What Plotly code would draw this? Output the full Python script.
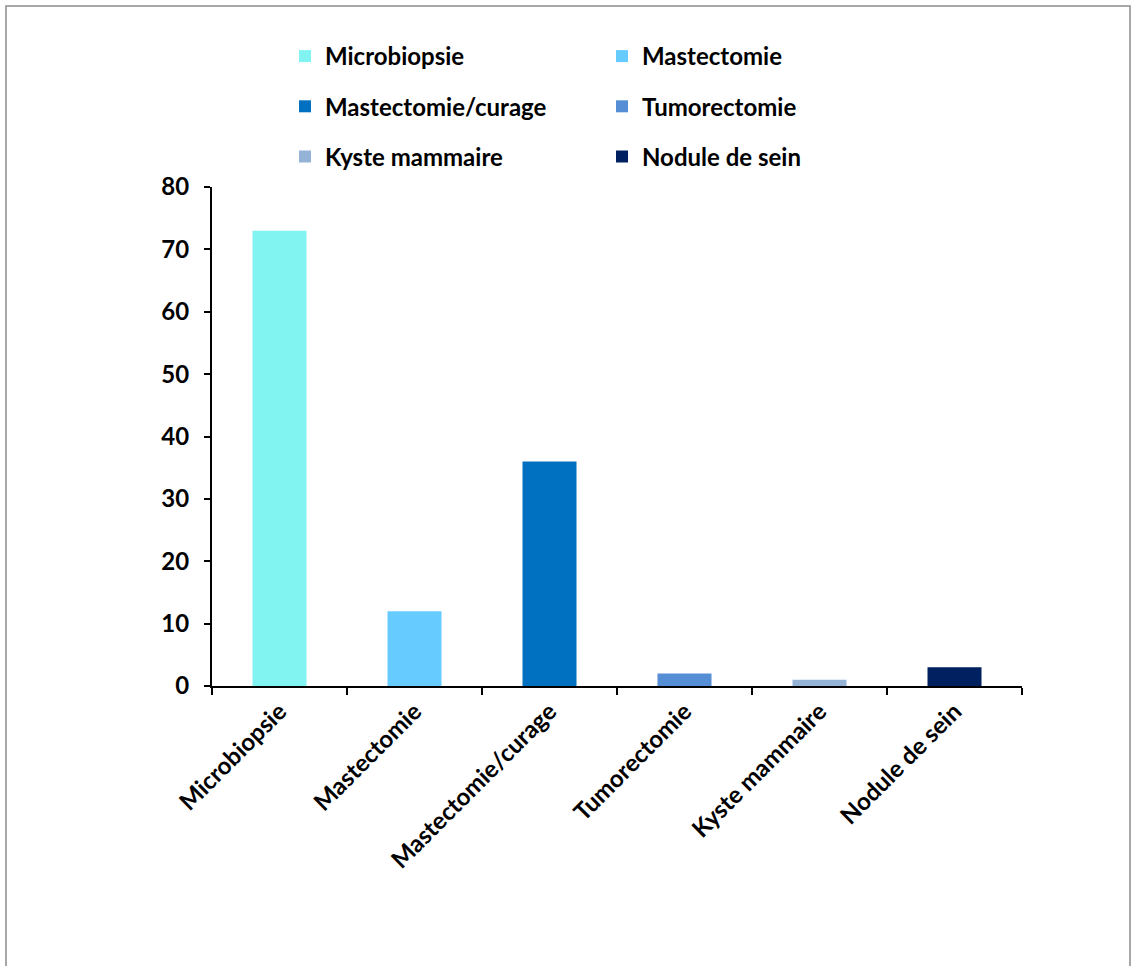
import plotly.graph_objects as go

# Nombre de prélèvements par type
categories = ["Microbiopsie", "Mastectomie", "Mastectomie/curage",
              "Tumorectomie", "Kyste mammaire", "Nodule de sein"]
values = [73, 12, 36, 2, 1, 3]
colors = ["#81F4F2", "#66CCFF", "#0070C0", "#558ED5", "#95B3D7", "#002060"]
legend_ids = ["legend", "legend2", "legend", "legend2", "legend", "legend2"]

y_ticks = [0, 10, 20, 30, 40, 50, 60, 70, 80]

FONT = "Lato"
FS = 24

fig = go.Figure()
for cat, val, col, lg in zip(categories, values, colors, legend_ids):
    fig.add_trace(go.Bar(
        x=[cat], y=[val], name=cat,
        marker=dict(color=col, line=dict(width=0)),
        width=0.4,
        legend=lg,
        legendgroup=cat,
    ))

W, H = 1132, 966
L, R, T, B = 212, 110, 187, 280
pw, ph = W - L - R, H - T - B

def px_x(x):
    return (x - L) / pw

def px_y(y):
    return (H - B - y) / ph

legend_common = dict(
    orientation="v",
    traceorder="grouped",
    tracegroupgap=16,
    font=dict(family=FONT, size=FS, color="black", weight="bold"),
    bgcolor="rgba(0,0,0,0)",
    xanchor="left", yanchor="top",
    yref="paper", xref="paper",
)

fig.update_layout(
    width=W, height=H,
    margin=dict(l=L, r=R, t=T, b=B),
    paper_bgcolor="white",
    plot_bgcolor="white",
    barmode="overlay",
    font=dict(family=FONT, size=FS, color="black", weight="bold"),
    legend=dict(**legend_common, x=px_x(285), y=px_y(34)),
    legend2=dict(**legend_common, x=px_x(602), y=px_y(34)),
    xaxis=dict(
        categoryorder="array", categoryarray=categories,
        showline=True, linecolor="black", linewidth=2,
        ticks="outside", tickson="boundaries", ticklen=7,
        tickwidth=1.5, tickcolor="black",
        tickangle=-45,
        tickfont=dict(family=FONT, size=FS, color="black", weight="bold"),
        showgrid=False, zeroline=False,
    ),
    yaxis=dict(
        range=[0, 80], tickvals=y_ticks,
        showline=True, linecolor="black", linewidth=2,
        ticks="outside", ticklen=6, tickwidth=1.5, tickcolor="black",
        ticklabelstandoff=10,
        tickfont=dict(family=FONT, size=FS, color="black", weight="bold"),
        showgrid=False, zeroline=False,
    ),
    shapes=[dict(
        type="rect", xref="paper", yref="paper",
        x0=px_x(6), x1=px_x(1130), y0=px_y(975), y1=px_y(6),
        line=dict(color="#8C8C8C", width=1.5), fillcolor="rgba(0,0,0,0)",
        layer="below",
    )],
)

fig.write_html("out.html")
